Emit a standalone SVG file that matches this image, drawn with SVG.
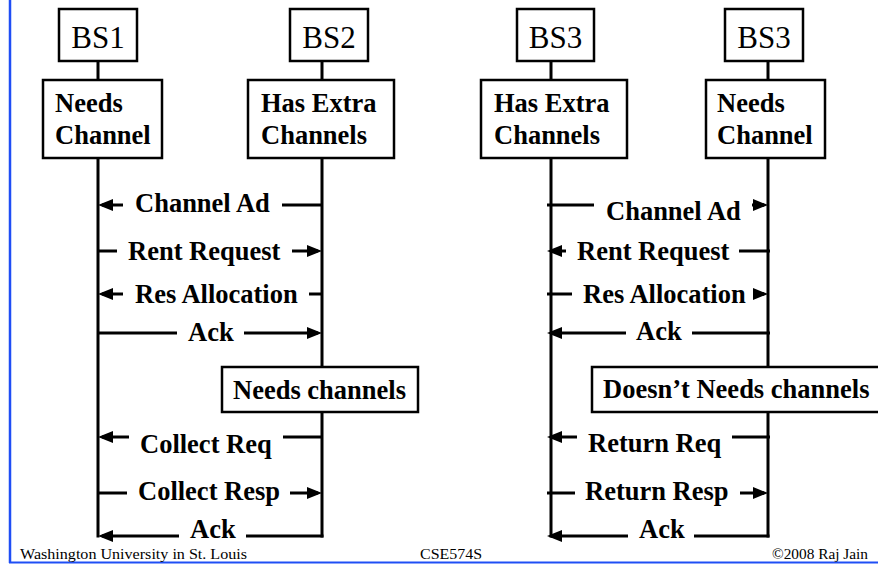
<svg xmlns="http://www.w3.org/2000/svg" width="878" height="564" viewBox="0 0 878 564">
<style>
.box{fill:#fff;stroke:#000;stroke-width:2.5}
.life{fill:none;stroke:#000;stroke-width:3}
.msg{fill:none;stroke:#000;stroke-width:3}
.arr{fill:none;stroke:#000;stroke-width:3;marker-end:url(#ah)}
.bs{font-family:"Liberation Serif","Times New Roman",serif;font-size:31px;fill:#000}
.lbl{font-family:"Liberation Serif","Times New Roman",serif;font-size:26.5px;font-weight:bold;fill:#000}
.foot{font-family:"Liberation Serif","Times New Roman",serif;font-size:14px;fill:#000}
.frame{stroke:#1f4ef5;fill:none}
</style>
<defs>
<marker id="ah" markerUnits="userSpaceOnUse" markerWidth="16" markerHeight="13" refX="11" refY="6" orient="auto" viewBox="0 0 16 13">
<path d="M0,0 L15,6 L0,12 z" fill="#000"/>
</marker>
</defs>
<rect width="878" height="564" fill="#fff"/>
<line class="frame" x1="10" y1="0" x2="10" y2="563" stroke-width="2.5"/>
<line class="frame" x1="9" y1="562.5" x2="878" y2="562.5" stroke-width="2"/>

<g id="lifelines">
<path class="life" d="M98,61 V80 M98,158 V537.5"/>
<path class="life" d="M322,61 V80 M322,158 V367 M322,412 V537.5"/>
<path class="life" d="M551,61 V80 M551,158 V537.5"/>
<path class="life" d="M768,61 V80 M768,158 V367 M768,412 V537.5"/>
</g>

<g id="bs1"><rect class="box" x="59" y="9" width="78" height="52"/><text class="bs" x="98" y="48" text-anchor="middle">BS1</text></g>
<g id="bs2"><rect class="box" x="290" y="9" width="78" height="52"/><text class="bs" x="329" y="48" text-anchor="middle">BS2</text></g>
<g id="bs3a"><rect class="box" x="517" y="9" width="77" height="52"/><text class="bs" x="555.5" y="48" text-anchor="middle">BS3</text></g>
<g id="bs3b"><rect class="box" x="725" y="9" width="78" height="52"/><text class="bs" x="764" y="48" text-anchor="middle">BS3</text></g>

<g id="needs1"><rect class="box" x="43" y="80" width="119" height="78"/><text class="lbl" x="55" y="112">Needs</text><text class="lbl" x="55" y="144">Channel</text></g>
<g id="extra2"><rect class="box" x="248" y="80" width="146" height="78"/><text class="lbl" x="261" y="112">Has Extra</text><text class="lbl" x="261" y="144">Channels</text></g>
<g id="extra3a"><rect class="box" x="481" y="80" width="146" height="78"/><text class="lbl" x="494" y="112">Has Extra</text><text class="lbl" x="494" y="144">Channels</text></g>
<g id="needs3b"><rect class="box" x="706" y="80" width="119" height="78"/><text class="lbl" x="717" y="112">Needs</text><text class="lbl" x="717" y="144">Channel</text></g>

<g id="needsch"><rect class="box" x="222" y="367" width="196" height="45"/><text class="lbl" x="233" y="399">Needs channels</text></g>
<g id="doesnt"><rect class="box" x="592" y="367" width="300" height="45"/><text class="lbl" x="603" y="398">Doesn’t Needs channels</text></g>

<g id="connectors">
<path class="arr" d="M123,205 H102"/><path class="msg" d="M282,205 H322"/>
<path class="msg" d="M98,251 H117"/><path class="arr" d="M292,251 H318"/>
<path class="arr" d="M123,294 H102"/><path class="msg" d="M309,294 H322"/>
<path class="msg" d="M98,333 H177"/><path class="arr" d="M244,333 H318"/>
<path class="arr" d="M129,437 H102"/><path class="msg" d="M283,437 H322"/>
<path class="msg" d="M98,493 H127"/><path class="arr" d="M290,493 H318"/>
<path class="arr" d="M179,536 H102"/><path class="msg" d="M246,536 H323.5"/>

<path class="msg" d="M547,205 H594"/><path class="arr" d="M752,205 H764"/>
<path class="arr" d="M566,251 H551"/><path class="msg" d="M739,251 H770"/>
<path class="msg" d="M547,294 H572"/><path class="arr" d="M757,294 H764"/>
<path class="arr" d="M626,333 H551"/><path class="msg" d="M692,333 H770"/>
<path class="arr" d="M577,437 H551"/><path class="msg" d="M732,437 H770"/>
<path class="msg" d="M547,493 H575"/><path class="arr" d="M740,493 H764"/>
<path class="arr" d="M628,536 H551"/><path class="msg" d="M694,536 H769.5"/>
</g>

<g id="labels">
<text class="lbl" x="135" y="212">Channel Ad</text>
<text class="lbl" x="128" y="260">Rent Request</text>
<text class="lbl" x="135" y="303">Res Allocation</text>
<text class="lbl" x="188" y="341">Ack</text>
<text class="lbl" x="140" y="453">Collect Req</text>
<text class="lbl" x="138" y="500">Collect Resp</text>
<text class="lbl" x="190" y="538">Ack</text>
<text class="lbl" x="606" y="220">Channel Ad</text>
<text class="lbl" x="577" y="260">Rent Request</text>
<text class="lbl" x="583" y="303">Res Allocation</text>
<text class="lbl" x="636" y="340">Ack</text>
<text class="lbl" x="588" y="452">Return Req</text>
<text class="lbl" x="585" y="500">Return Resp</text>
<text class="lbl" x="639" y="538">Ack</text>
</g>

<g id="footer">
<text class="foot" x="20" y="559" textLength="227" lengthAdjust="spacingAndGlyphs">Washington University in St. Louis</text>
<text class="foot" x="420" y="559" textLength="62" lengthAdjust="spacingAndGlyphs">CSE574S</text>
<text class="foot" x="772" y="559" textLength="96" lengthAdjust="spacingAndGlyphs">©2008 Raj Jain</text>
</g>
</svg>
